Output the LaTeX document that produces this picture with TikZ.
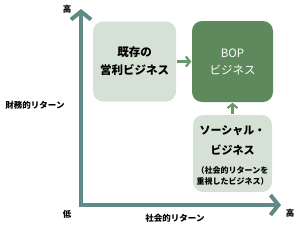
\documentclass[tikz,border=0pt]{standalone}
\usepackage{fontspec}
\setmainfont{Noto Sans CJK JP}
\usetikzlibrary{arrows.meta}
\definecolor{axiscol}{HTML}{5F8A87}
\definecolor{lightbox}{HTML}{D6E1D5}
\definecolor{darkbox}{HTML}{5E895C}
\definecolor{smallarr}{HTML}{6A9868}
\tikzset{
  axisline/.style={draw=axiscol,line width=4pt,-{Straight Barb[length=8pt,width=20pt,line width=4pt]}},
  linkarrow/.style={draw=smallarr,line width=2.2pt,-{Straight Barb[length=4pt,width=10pt,line width=2.2pt]}},
  lbox/.style={fill=lightbox,rounded corners=10pt,inner sep=0pt},
  dbox/.style={fill=darkbox,rounded corners=10pt,inner sep=0pt},
  axlabel/.style={font=\bfseries\fontsize{8.5}{10}\selectfont,inner sep=0pt},
}
\begin{document}
\begin{tikzpicture}[x=1pt,y=-1pt]
\useasboundingbox (0,0) rectangle (300,228);
% boxes
\node[lbox,minimum width=83pt,minimum height=80pt] (exist) at (134.5,61.5) {};
\node[dbox,minimum width=81pt,minimum height=81pt] (bop) at (232.5,61.5) {};
\node[lbox,minimum width=79pt,minimum height=77pt] (social) at (232.5,153.5) {};
% box texts
\node[font=\bfseries\fontsize{11.5}{18}\selectfont,align=center,inner sep=0pt] (t1) at (exist.center) {既存の\\営利ビジネス};
\node[font=\fontsize{11.5}{17}\selectfont,text=white,align=center,inner sep=0pt] (t2) at (bop.center) {BOP\\ビジネス};
\node[font=\bfseries\fontsize{11}{20}\selectfont,align=center,inner sep=0pt] (t3) at (232.5,140) {ソーシャル・\\ビジネス};
\node[font=\bfseries\fontsize{8}{11}\selectfont,align=center,inner sep=0pt] (t4) at (232.5,176) {（社会的リターンを\\重視したビジネス）};
% axes
\coordinate (origin) at (81,205);
\coordinate (ytop) at (81,9);
\coordinate (xend) at (281,205);
\draw[axisline] (origin) -- (ytop);
\draw[axisline] (origin) -- (xend);
\fill[axiscol] (79,203) rectangle (83,207);
% axis labels
\node[axlabel] (yhigh) at (67,9) {高};
\node[axlabel] (xhigh) at (290,213) {高};
\node[axlabel] (low) at (67,214) {低};
\node[axlabel] (ylab) at (35,105) {財務的リターン};
\node[axlabel] (xlab) at (175,218) {社会的リターン};
% link arrows
\coordinate (a1s) at ([xshift=1pt]exist.east);
\coordinate (a1e) at ([xshift=-0.5pt]bop.west);
\coordinate (a2s) at ([yshift=1pt]social.north);
\coordinate (a2e) at ([yshift=-0.5pt]bop.south);
\draw[linkarrow] (a1s) -- (a1e);
\draw[linkarrow] (a2s) -- (a2e);
\end{tikzpicture}
\end{document}
